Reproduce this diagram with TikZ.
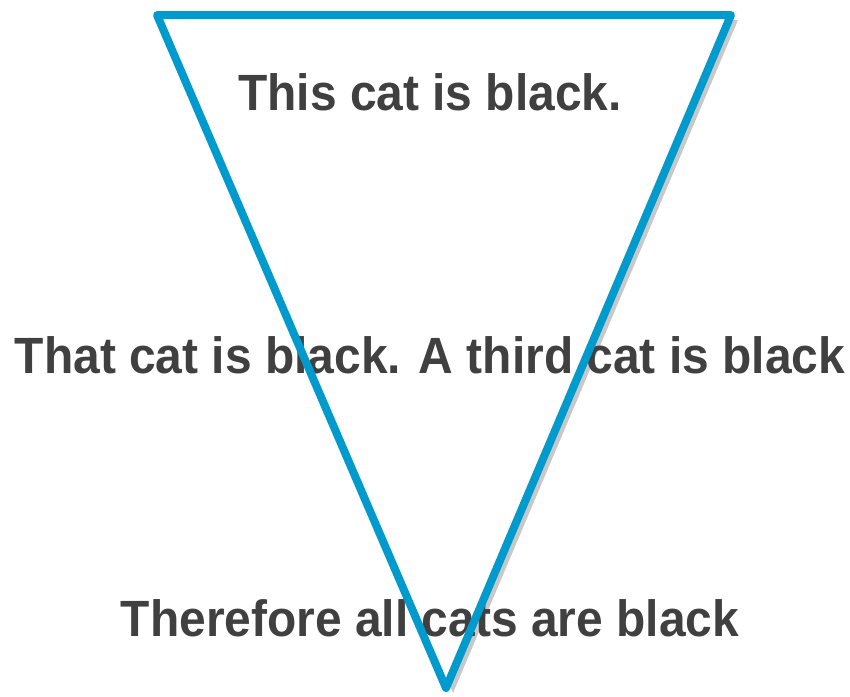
\documentclass[tikz,border=0pt]{standalone}
\usepackage{fontspec}
\setmainfont{Liberation Sans}[FakeStretch=0.94]
\definecolor{funnelblue}{RGB}{0,155,204}
\definecolor{shadowgray}{RGB}{200,200,200}
\definecolor{textgray}{RGB}{64,64,64}
\tikzset{
	step text/.style={anchor=base, text=textgray, font=\bfseries\fontsize{51}{54}\selectfont, inner sep=0pt},
	funnel line/.style={draw=funnelblue, line width=8pt, line join=round, line cap=round}
}

\begin{document}
\begin{tikzpicture}[x=1pt, y=-1pt]
	\useasboundingbox (0, 0) rectangle (850, 696);
	% Corners of the funnel:
	\coordinate (tl) at (157, 15);
	\coordinate (tr) at (731, 15);
	\coordinate (bt) at (446, 688);
	% Shadow and white body:
	\fill[shadowgray] ([shift={(7, 5)}]tl) -- ([shift={(7, 5)}]tr) -- ([shift={(7, 5)}]bt) -- cycle;
	\fill[white] (tl) -- (tr) -- (bt) -- cycle;
	% Texts:
	\node[step text] (first) at (430, 110) {This cat is black.};
	\node[step text] (second) at (430, 373) {That cat is black. A third cat is black};
	\node[step text] (third) at (430, 636) {Therefore all cats are black};
	% Outline:
	\draw[funnel line] (tl) -- (tr) -- (bt) -- cycle;
\end{tikzpicture}
\end{document}
